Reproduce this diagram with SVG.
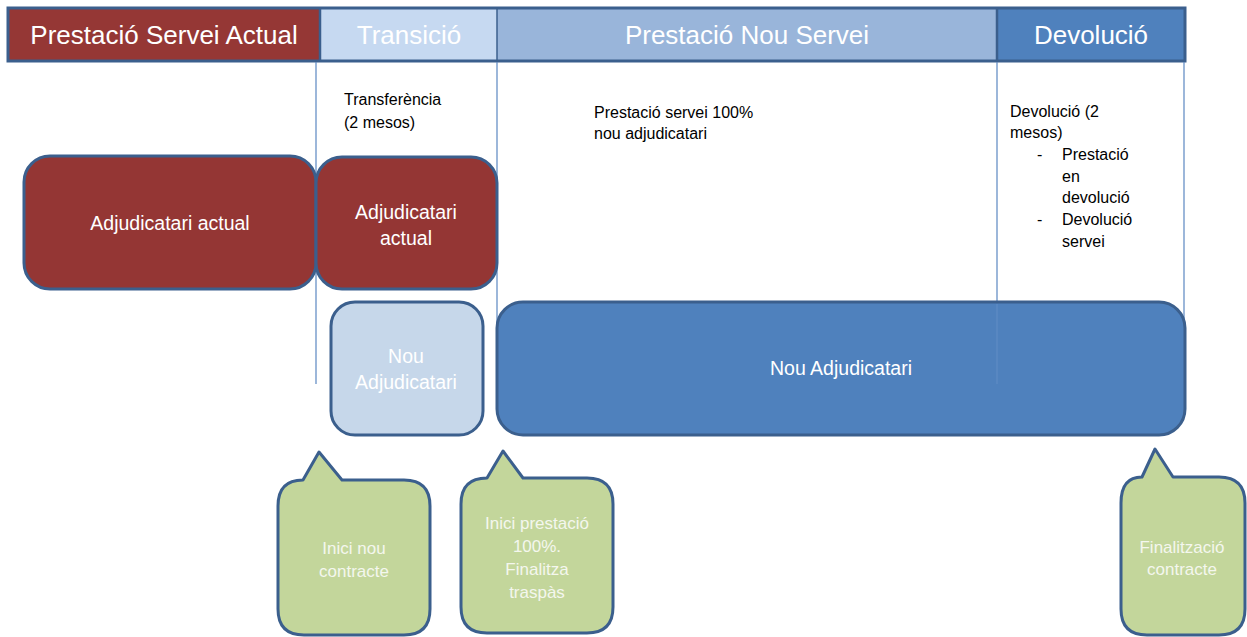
<svg xmlns="http://www.w3.org/2000/svg" width="1247" height="637" viewBox="0 0 1247 637">
<style>
.hdr{font-family:"Liberation Sans",Arial,sans-serif;font-size:26px;fill:#ffffff;text-anchor:middle}
.box{stroke:#3b5f8d;stroke-width:3}
.bt{font-family:"Liberation Sans",Arial,sans-serif;font-size:19.5px;fill:#ffffff;text-anchor:middle}
.note{font-family:"Liberation Sans",Arial,sans-serif;font-size:16px;fill:#000000}
.ct{font-family:"Liberation Sans",Arial,sans-serif;font-size:17px;fill:#f4f7ee;text-anchor:middle}
.vl{stroke:#5b87c2;stroke-width:1.2;fill:none}
.vf{stroke:#6f98cc;stroke-width:1;fill:none;opacity:0.6}
.call{fill:#c3d69b;stroke:#3b5f8d;stroke-width:3;stroke-linejoin:round}
</style>
<rect width="1247" height="637" fill="#ffffff"/>
<g id="header">
<rect x="8" y="8" width="312" height="53" fill="#953735"/>
<rect x="320" y="8" width="177" height="53" fill="#c6d9f1"/>
<rect x="497" y="8" width="500" height="53" fill="#99b5da"/>
<rect x="997" y="8" width="188" height="53" fill="#4f81bd"/>
<rect x="8" y="8" width="1177" height="53" fill="none" stroke="#3b5f8d" stroke-width="3"/>
<line x1="320" y1="8" x2="320" y2="61" stroke="#3b5f8d" stroke-width="2.5"/>
<line x1="497" y1="8" x2="497" y2="61" stroke="#3b5f8d" stroke-width="1.5"/>
<line x1="997" y1="8" x2="997" y2="61" stroke="#3b5f8d" stroke-width="2.5"/>
<text class="hdr" x="164" y="44">Prestació Servei Actual</text>
<text class="hdr" x="409" y="44">Transició</text>
<text class="hdr" x="747" y="44">Prestació Nou Servei</text>
<text class="hdr" x="1091" y="44">Devolució</text>
</g>
<g id="connectors">
<line class="vl" x1="316" y1="62" x2="316" y2="384"/>
<line class="vl" x1="497" y1="62" x2="497" y2="384"/>
<line class="vl" x1="997" y1="62" x2="997" y2="384"/>
<line class="vl" x1="1184" y1="62" x2="1184" y2="384"/>
</g>
<g id="notes">
<text class="note" x="344" y="105">Transferència</text>
<text class="note" x="344" y="128">(2 mesos)</text>
<text class="note" x="594" y="118">Prestació servei 100%</text>
<text class="note" x="594" y="139">nou adjudicatari</text>
<text class="note" x="1010" y="117">Devolució (2</text>
<text class="note" x="1010" y="138">mesos)</text>
<text class="note" x="1037" y="160">-</text>
<text class="note" x="1062" y="160">Prestació</text>
<text class="note" x="1062" y="182">en</text>
<text class="note" x="1062" y="203">devolució</text>
<text class="note" x="1037" y="225">-</text>
<text class="note" x="1062" y="225">Devolució</text>
<text class="note" x="1062" y="247">servei</text>
</g>
<g id="adj-actual-1">
<rect class="box" x="24" y="156" width="292" height="133" rx="26" fill="#943634"/>
<text class="bt" x="170" y="230">Adjudicatari actual</text>
</g>
<g id="adj-actual-2">
<rect class="box" x="316" y="157" width="181" height="132" rx="26" fill="#943634"/>
<text class="bt" x="406" y="219">Adjudicatari</text>
<text class="bt" x="406" y="245">actual</text>
</g>
<g id="nou-adj-1">
<rect class="box" x="331" y="302" width="152" height="133" rx="24" fill="#c6d7ea"/>
<text class="bt" x="406" y="363" fill="#f3f6fb">Nou</text>
<text class="bt" x="406" y="389" fill="#f3f6fb">Adjudicatari</text>
</g>
<g id="nou-adj-2">
<rect class="box" x="497" y="302" width="688" height="133" rx="26" fill="#4f81bd"/>
<text class="bt" x="841" y="375">Nou Adjudicatari</text>
<line class="vf" x1="997" y1="304" x2="997" y2="384"/>
</g>
<g id="callout-1">
<path class="call" d="M303,480 L319,452 L342,480 L404,480 Q430,480 430,506 L430,609 Q430,635 404,635 L304,635 Q278,635 278,609 L278,506 Q278,480 303,480 Z"/>
<text class="ct" x="354" y="554">Inici nou</text>
<text class="ct" x="354" y="577">contracte</text>
</g>
<g id="callout-2">
<path class="call" d="M487,478 L503,451 L523,478 L587,478 Q613,478 613,504 L613,607 Q613,633 587,633 L487,633 Q461,633 461,607 L461,504 Q461,478 487,478 Z"/>
<text class="ct" x="537" y="529">Inici prestació</text>
<text class="ct" x="537" y="552">100%.</text>
<text class="ct" x="537" y="575">Finalitza</text>
<text class="ct" x="537" y="598">traspàs</text>
</g>
<g id="callout-3">
<path class="call" d="M1142,477 L1155,449 L1173,477 L1219,477 Q1245,477 1245,503 L1245,609 Q1245,635 1219,635 L1147,635 Q1121,635 1121,609 L1121,503 Q1121,477 1142,477 Z"/>
<text class="ct" x="1182" y="553">Finalització</text>
<text class="ct" x="1182" y="575">contracte</text>
</g>
</svg>
